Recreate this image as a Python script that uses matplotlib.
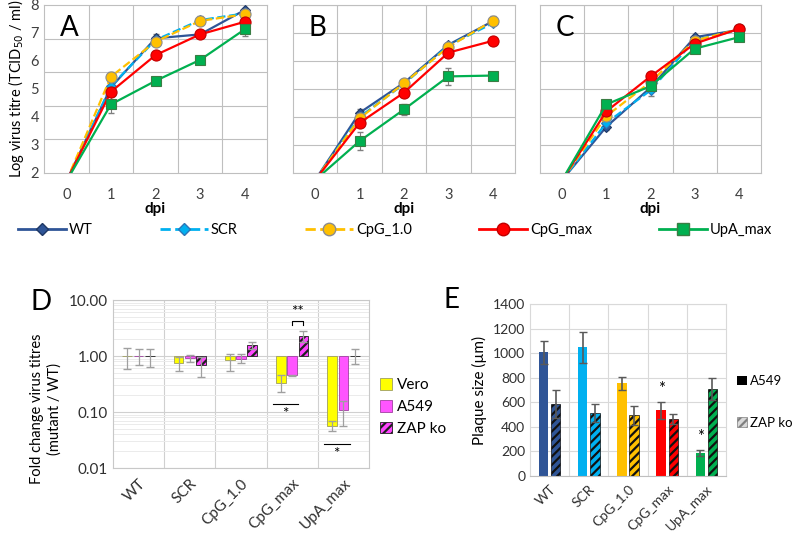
import numpy as np
import matplotlib.pyplot as plt
from matplotlib.lines import Line2D
from matplotlib.patches import Patch

plt.rcParams['font.family'] = ['Lato', 'DejaVu Sans']
plt.rcParams['hatch.linewidth'] = 1.6

W, H = 794, 536

days = [0, 1, 2, 3, 4]
viruses = ['WT', 'SCR', 'CpG_1.0', 'CpG_max', 'UpA_max']

# growth curves, log TCID50/ml (day 0 sits just under the axis floor)
a_wt = [1.7, 5.06, 6.81, 6.95, 7.82]
a_scr = [1.7, 5.1, 6.75, 7.46, 7.7]
a_cpg10 = [1.7, 5.44, 6.69, 7.43, 7.67]
a_cpgmax = [1.7, 4.9, 6.21, 6.95, 7.4]
a_upa = [1.7, 4.45, 5.29, 6.04, 7.13]
a_wt_err = [0, 0.1, 0.15, 0.1, 0.05]
a_scr_err = [0, 0.1, 0.1, 0.15, 0.05]
a_cpg10_err = [0, 0.15, 0.1, 0.1, 0.05]
a_cpgmax_err = [0, 0.1, 0.1, 0.1, 0.05]
a_upa_err = [0, 0.3, 0.05, 0.05, 0.25]

b_wt = [1.75, 4.15, 5.22, 6.58, 7.42]
b_scr = [1.75, 4.0, 5.18, 6.55, 7.35]
b_cpg10 = [1.75, 3.95, 5.21, 6.5, 7.44]
b_cpgmax = [1.75, 3.79, 4.87, 6.3, 6.72]
b_upa = [1.75, 3.14, 4.27, 5.45, 5.48]
b_wt_err = [0, 0.12, 0.05, 0.08, 0.1]
b_scr_err = [0, 0.05, 0.05, 0.05, 0.05]
b_cpg10_err = [0, 0.08, 0.05, 0.05, 0.15]
b_cpgmax_err = [0, 0.05, 0.05, 0.05, 0.05]
b_upa_err = [0, 0.33, 0.2, 0.3, 0.05]

c_wt = [1.75, 3.65, 5.05, 6.85, 7.11]
c_scr = [1.75, 3.79, 4.95, 6.75, 7.1]
c_cpg10 = [1.75, 4.03, 5.25, 6.73, 7.13]
c_cpgmax = [1.75, 4.2, 5.45, 6.62, 7.15]
c_upa = [1.75, 4.45, 5.1, 6.44, 6.85]
c_wt_err = [0, 0.12, 0.05, 0.05, 0.05]
c_scr_err = [0, 0.05, 0.2, 0.05, 0.05]
c_cpg10_err = [0, 0.05, 0.05, 0.05, 0.05]
c_cpgmax_err = [0, 0.05, 0.05, 0.05, 0.05]
c_upa_err = [0, 0.05, 0.05, 0.05, 0.05]

# fold change mutant / WT
fold_vero = [1.0, 0.76, 0.84, 0.33, 0.0565]
fold_vero_lo = [0.58, 0.55, 0.54, 0.23, 0.045]
fold_vero_hi = [1.41, 0.96, 1.07, 0.455, 0.069]
fold_a549 = [1.0, 0.92, 0.9, 0.455, 0.107]
fold_a549_lo = [0.68, 0.79, 0.76, 0.445, 0.057]
fold_a549_hi = [1.32, 1.04, 1.07, 0.465, 0.16]
fold_zap = [1.0, 0.68, 1.58, 2.23, 1.0]
fold_zap_lo = [0.63, 0.42, 1.35, 1.75, 0.71]
fold_zap_hi = [1.36, 0.97, 1.81, 2.82, 1.32]

# plaque size (um)
plaque_a549 = [1007, 1048, 754, 536, 190]
plaque_a549_err = [95, 127, 55, 68, 25]
plaque_zap = [585, 512, 493, 465, 707]
plaque_zap_err = [115, 70, 80, 40, 88]

colors = ['#2F5597', '#00B0F0', '#FFC000', '#FF0000', '#00B050']
edges = ['#1F3864', '#2E75B6', '#8C8C8C', '#C00000', '#3A7D44']
markers = ['D', 'D', 'o', 'o', 's']
msizes = [5.5, 5.5, 8, 8, 7.5]
lstyles = ['-', '--', '--', '-', '-']
grid_col = '#BFBFBF'


def px_axes(fig, l, t, r, b):
    return fig.add_axes([l / W, 1 - b / H, (r - l) / W, (b - t) / H])


def growth_panel(ax, series, errs, letter, first=False):
    for vals, err in zip(series, errs):
        ax.errorbar(days, vals, yerr=err, fmt='none', ecolor='#7F7F7F',
                    elinewidth=0.8, capsize=2.5, zorder=2)
    for i, vals in enumerate(series):
        ax.plot(days, vals, color=colors[i], ls=lstyles[i], lw=1.6,
                marker=markers[i], ms=msizes[i], mfc=colors[i],
                mec=edges[i], mew=0.8, zorder=3)
    ax.set_xlim(-0.5, 4.5)
    ax.set_ylim(2, 8)
    ax.set_xticks(days)
    ax.set_xticks([0.5, 1.5, 2.5, 3.5], minor=True)
    ax.set_yticks(range(2, 9))
    if first:
        # gridlines in A are spaced differently from the labels
        ax.set_yticks(np.linspace(2, 8, 6), minor=True)
        ax.grid(True, which='minor', color=grid_col, lw=0.8)
        ax.grid(False, which='major')
        ax.set_ylabel('Log virus titre (TCID$_{50}$ / ml)', fontsize=10.5,
                      labelpad=3)
    else:
        ax.grid(True, which='major', axis='y', color=grid_col, lw=0.8)
        ax.grid(True, which='minor', axis='x', color=grid_col, lw=0.8)
        ax.set_yticklabels([])
    ax.tick_params(which='both', length=0, labelsize=10.5, colors='#404040')
    ax.tick_params(axis='x', pad=11)
    ax.set_xlabel('dpi', fontweight='bold', fontsize=11, labelpad=0)
    for s in ax.spines.values():
        s.set_color(grid_col)
        s.set_linewidth(0.8)
    ax.set_axisbelow(True)
    ax.text(0.07, 0.94, letter, transform=ax.transAxes, fontsize=20,
            va='top', ha='left')


fig = plt.figure(figsize=(W / 100, H / 100), dpi=100)

axA = px_axes(fig, 44, 5, 267, 173)
axB = px_axes(fig, 293, 5, 515, 173)
axC = px_axes(fig, 540, 5, 761, 173)
growth_panel(axA, [a_wt, a_scr, a_cpg10, a_cpgmax, a_upa],
             [a_wt_err, a_scr_err, a_cpg10_err, a_cpgmax_err, a_upa_err],
             'A', first=True)
growth_panel(axB, [b_wt, b_scr, b_cpg10, b_cpgmax, b_upa],
             [b_wt_err, b_scr_err, b_cpg10_err, b_cpgmax_err, b_upa_err], 'B')
growth_panel(axC, [c_wt, c_scr, c_cpg10, c_cpgmax, c_upa],
             [c_wt_err, c_scr_err, c_cpg10_err, c_cpgmax_err, c_upa_err], 'C')

handles = [Line2D([], [], color=colors[i], ls=lstyles[i], lw=2,
                  marker=markers[i], ms=msizes[i] + 1, mfc=colors[i],
                  mec=edges[i]) for i in range(5)]
fig.legend(handles, viruses, ncol=5, loc='center left',
           bbox_to_anchor=(12 / W, 1 - 230 / H), frameon=False,
           fontsize=10.5, handlelength=3.3, handletextpad=0.2,
           columnspacing=4.6, borderaxespad=0)

# panel D
x = np.arange(len(viruses))
axD = px_axes(fig, 113, 300, 369, 468)
axD.set_yscale('log')
bw = 0.19
d_sets = [
    (fold_vero, fold_vero_lo, fold_vero_hi, -0.22, '#FFFF00', '#9E9E60', None),
    (fold_a549, fold_a549_lo, fold_a549_hi, 0.0, '#FF55FF', '#A040A0', None),
    (fold_zap, fold_zap_lo, fold_zap_hi, 0.22, '#FF44FF', '#202020', '////'),
]
for vals, lo, hi, off, fc, ec, hatch in d_sets:
    vals = np.array(vals)
    axD.bar(x + off, vals - 1, bottom=1, width=bw, color=fc, edgecolor=ec,
            hatch=hatch, lw=0.6, zorder=2)
    yerr = [vals - np.array(lo), np.array(hi) - vals]
    axD.errorbar(x + off, vals, yerr=yerr, fmt='none', ecolor='#A0A0A0',
                 elinewidth=0.9, capsize=3, zorder=3)
axD.set_ylim(0.01, 10)
axD.set_xlim(-0.5, 4.5)
axD.set_yticks([0.01, 0.1, 1, 10])
axD.set_yticklabels(['0.01', '0.10', '1.00', '10.00'])
axD.set_xticks(x)
axD.set_xticklabels(viruses, rotation=45, ha='right', rotation_mode='anchor')
axD.set_xticks([0.5, 1.5, 2.5, 3.5], minor=True)
axD.grid(True, which='major', axis='y', color='#D0D0D0', lw=0.8)
axD.grid(True, which='minor', axis='y', color='#EBEBEB', lw=0.7)
axD.grid(True, which='minor', axis='x', color='#D0D0D0', lw=0.8)
axD.tick_params(which='both', length=0, labelsize=11, colors='#303030')
axD.tick_params(axis='x', pad=6)
for s in axD.spines.values():
    s.set_color('#C8C8C8')
axD.set_axisbelow(True)
axD.set_ylabel('Fold change virus titres\n(mutant / WT)', fontsize=10.5,
               linespacing=1.3)
axD.yaxis.set_label_coords(-0.2, 0.35)
# significance marks
axD.plot([3 - 0.37, 3 + 0.12], [0.14, 0.14], color='black', lw=0.8)
axD.text(2.87, 0.125, '*', ha='center', va='top', fontsize=11)
axD.plot([4 - 0.37, 4 + 0.12], [0.027, 0.027], color='black', lw=0.8)
axD.text(3.87, 0.024, '*', ha='center', va='top', fontsize=11)
axD.plot([3.0, 3.0, 3.22, 3.22], [3.6, 4.2, 4.2, 3.6], color='black', lw=0.8)
axD.text(3.11, 4.6, '**', ha='center', va='bottom', fontsize=11)
fig.text(41 / W, 1 - 302 / H, 'D', fontsize=20, va='center', ha='center')

d_handles = [Patch(fc='#FFFF00', ec='#9E9E60', lw=0.6),
             Patch(fc='#FF55FF', ec='#A040A0', lw=0.6),
             Patch(fc='#FF44FF', ec='#202020', hatch='////', lw=0.6)]
fig.legend(d_handles, ['Vero', 'A549', 'ZAP ko'], loc='center left',
           bbox_to_anchor=(374 / W, 1 - 407 / H), frameon=False,
           fontsize=11, handlelength=0.8, handleheight=0.8,
           handletextpad=0.3, labelspacing=0.5, borderaxespad=0)

# panel E
axE = px_axes(fig, 530, 304, 726, 476)
ew = 0.24
axE.bar(x - 0.155, plaque_a549, width=ew, color=colors, zorder=2)
axE.bar(x + 0.155, plaque_zap, width=ew, color=colors, edgecolor='#101010',
        hatch='////', lw=0.5, zorder=2)
axE.errorbar(x - 0.155, plaque_a549, yerr=plaque_a549_err, fmt='none',
             ecolor='#595959', elinewidth=1.2, capsize=3, zorder=3)
axE.errorbar(x + 0.155, plaque_zap, yerr=plaque_zap_err, fmt='none',
             ecolor='#595959', elinewidth=1.2, capsize=3, zorder=3)
for i in (3, 4):
    axE.text(x[i] - 0.155, plaque_a549[i] + plaque_a549_err[i] + 40, '*',
             ha='center', va='bottom', fontsize=12)
axE.set_ylim(0, 1400)
axE.set_xlim(-0.5, 4.5)
axE.set_yticks(range(0, 1401, 200))
axE.set_xticks(x)
axE.set_xticklabels(viruses, rotation=45, ha='right', rotation_mode='anchor')
axE.set_xticks([0.5, 1.5, 2.5, 3.5], minor=True)
axE.grid(True, which='major', axis='y', color='#D9D9D9', lw=0.8)
axE.grid(True, which='minor', axis='x', color='#D9D9D9', lw=0.8)
axE.tick_params(which='both', length=0, labelsize=10, colors='#303030')
axE.tick_params(axis='x', pad=5)
for s in axE.spines.values():
    s.set_color('#D9D9D9')
axE.spines['bottom'].set_color('#BFBFBF')
axE.set_axisbelow(True)
axE.set_ylabel('Plaque size (µm)', fontsize=11, labelpad=4)
fig.text(452 / W, 1 - 300 / H, 'E', fontsize=20, va='center', ha='center')

e_handles = [Patch(fc='black'),
             Patch(fc='#D9D9D9', ec='#808080', hatch='////', lw=0.5)]
fig.legend(e_handles, ['A549', 'ZAP ko'], loc='center left',
           bbox_to_anchor=(732 / W, 1 - 402 / H), frameon=False,
           fontsize=9.5, handlelength=0.7, handleheight=0.7,
           handletextpad=0.25, labelspacing=2.2, borderaxespad=0)

fig.savefig('out.png', dpi=100)
